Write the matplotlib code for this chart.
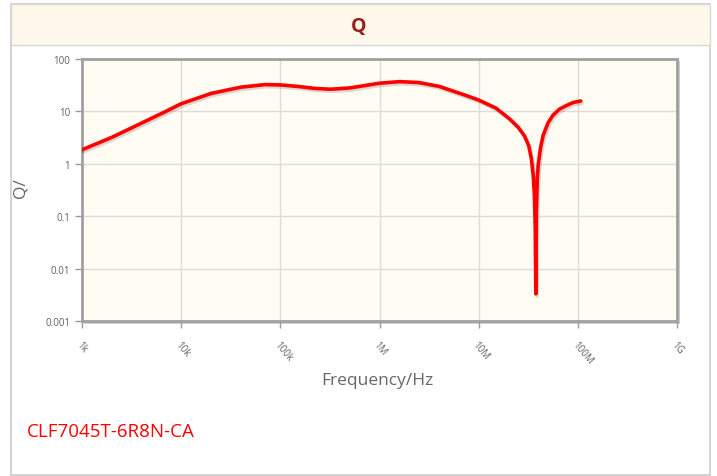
import numpy as np
import matplotlib.pyplot as plt
import matplotlib.patheffects as pe
from matplotlib.patches import Rectangle

# --- dados ----------------------------------------------------------------
freq_hz = [1e3, 2e3, 4e3, 7e3, 1e4, 2e4, 4e4, 7e4, 1e5, 1.5e5, 2.2e5, 3.2e5,
           5e5, 7e5, 1e6, 1.6e6, 2.5e6, 4e6, 7e6, 1e7, 1.5e7, 2.05e7, 2.5e7,
           2.9e7, 3.2e7, 3.4e7, 3.55e7, 3.65e7, 3.72e7, 3.77e7, 3.82e7,
           3.9e7, 3.98e7, 4.2e7, 4.47e7, 5e7, 5.6e7, 6.5e7, 7.7e7, 9e7, 1.07e8]
q_value = [1.85, 3.2, 6.0, 10.0, 14.0, 22.0, 29.0, 32.5, 32.0, 30.0, 27.5,
           26.5, 28.0, 31.0, 34.5, 37.0, 35.5, 30.0, 21.0, 16.5, 11.5, 7.2,
           5.0, 3.4, 2.2, 1.25, 0.6, 0.25, 0.06, 0.0033, 0.12, 0.5, 0.93,
           2.0, 3.5, 6.0, 8.4, 11.0, 13.0, 14.8, 15.8]

x_ticks = [1e3, 1e4, 1e5, 1e6, 1e7, 1e8, 1e9]
x_tick_labels = ["1k", "10k", "100k", "1M", "10M", "100M", "1G"]
y_ticks = [0.001, 0.01, 0.1, 1, 10, 100]
y_tick_labels = ["0.001", "0.01", "0.1", "1", "10", "100"]

chart_title = "Q"
part_name = "CLF7045T-6R8N-CA"

# --- figura ---------------------------------------------------------------
W, H = 717, 477
fig = plt.figure(figsize=(W / 100, H / 100), dpi=100)
fig.patch.set_facecolor("white")
plt.rcParams['font.family'] = ['Open Sans', 'DejaVu Sans']

def px(x0, y0, x1, y1):
    # converte caixa em pixels (topo-esquerda) para coordenadas da figura
    return [x0 / W, 1 - y1 / H, (x1 - x0) / W, (y1 - y0) / H]

# moldura externa e faixa do título
fig.patches.append(Rectangle((11 / W, 1 - 476 / H), 699 / W, 471 / H,
                             transform=fig.transFigure, facecolor="white",
                             edgecolor="#cccccc", linewidth=1.2, zorder=0))
fig.patches.append(Rectangle((11 / W, 1 - 46 / H), 699 / W, 41 / H,
                             transform=fig.transFigure, facecolor="#fdf8ea",
                             edgecolor="#d8d8d8", linewidth=1.0, zorder=1))
fig.text(359 / W, 1 - 27 / H, chart_title, ha="center", va="center",
         fontsize=14, fontweight="bold", color="#9b1c1c")

# sombra da área do gráfico
fig.patches.append(Rectangle((84 / W, 1 - 325 / H), 596 / W, 263 / H,
                             transform=fig.transFigure, facecolor="#cfcfcf",
                             edgecolor="none", zorder=1))

ax = fig.add_axes(px(82, 60, 677, 322))
ax.set_zorder(5)
ax.set_facecolor("#fffcf4")
ax.set_xscale("log")
ax.set_yscale("log")
ax.set_xlim(1e3, 1e9)
ax.set_ylim(1e-3, 1e2)

ax.plot(freq_hz, q_value, color="#ff0000", linewidth=2.6,
        solid_joinstyle="round", solid_capstyle="round", zorder=3,
        path_effects=[pe.SimpleLineShadow(offset=(1, -1.5), alpha=0.15),
                      pe.Normal()])

ax.set_xticks(x_ticks)
ax.set_xticklabels(x_tick_labels, rotation=-50, ha="left", va="top",
                   rotation_mode="anchor")
ax.set_yticks(y_ticks)
ax.set_yticklabels(y_tick_labels)
ax.minorticks_off()
ax.tick_params(axis="both", colors="#999999", labelcolor="#606060",
               labelsize=7, length=5, width=1)
ax.tick_params(axis="x", pad=8, labelsize=7)
ax.grid(True, color="#dcdcdc", linewidth=1)
ax.set_axisbelow(True)
for s in ax.spines.values():
    s.set_color("#a0a0a0")
    s.set_linewidth(2)

fig.text(377 / W, 1 - 381 / H, "Frequency/Hz", ha="center", va="center",
         fontsize=12.5, color="#666666")
fig.text(20 / W, 1 - 188 / H, "Q/", ha="center", va="center", rotation=90,
         fontsize=12.5, color="#666666")
fig.text(27 / W, 1 - 432 / H, part_name, ha="left", va="center",
         fontsize=13.5, color="#ff0000")

fig.savefig("out.png", dpi=100)
